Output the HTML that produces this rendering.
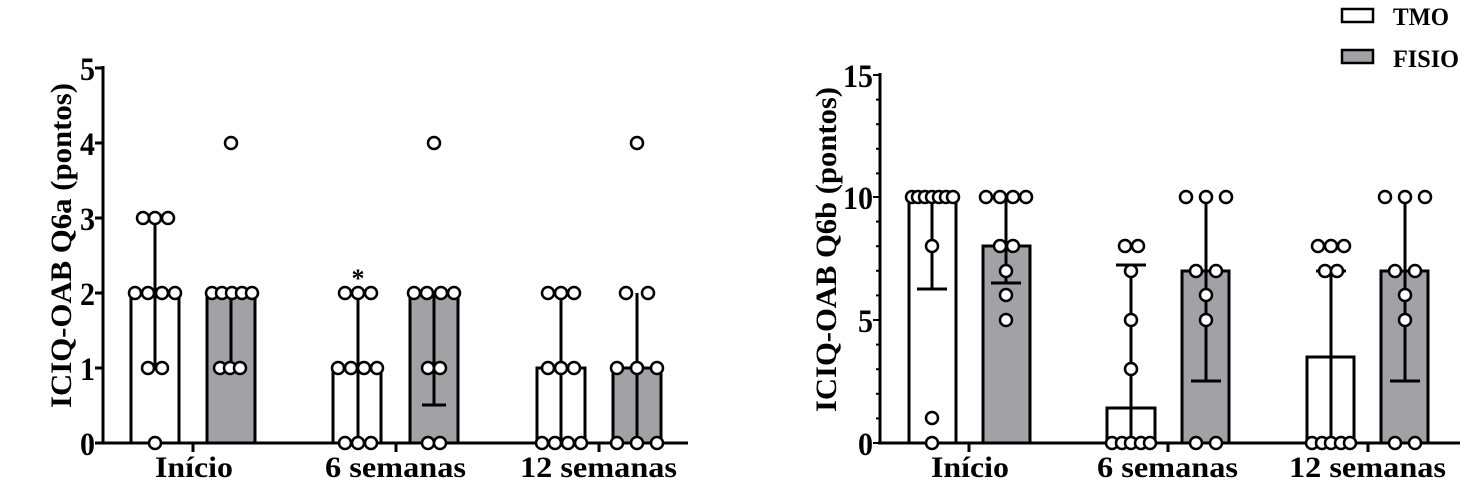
<!DOCTYPE html><html><head><style>body{margin:0;background:#fff}svg{display:block}text{font-family:"Liberation Serif",serif;font-weight:bold;fill:#000}</style></head><body>
<svg width="1472" height="498" viewBox="0 0 1472 498" xmlns="http://www.w3.org/2000/svg">
<g stroke="#000" stroke-width="3" fill="none">
<line x1="103" y1="66" x2="103" y2="444"/><line x1="101" y1="443" x2="688" y2="443"/>
<line x1="95" y1="68" x2="103" y2="68"/><line x1="95" y1="143" x2="103" y2="143"/><line x1="95" y1="218" x2="103" y2="218"/><line x1="95" y1="293" x2="103" y2="293"/><line x1="95" y1="368" x2="103" y2="368"/><line x1="95" y1="443" x2="103" y2="443"/>
<line x1="193" y1="443" x2="193" y2="452"/><line x1="396" y1="443" x2="396" y2="452"/><line x1="599" y1="443" x2="599" y2="452"/>
<line x1="880" y1="73" x2="880" y2="444"/><line x1="878" y1="443" x2="1460" y2="443"/>
</g>
<g stroke="#000" stroke-width="2">
<line x1="873" y1="75" x2="880" y2="75"/><line x1="873" y1="197" x2="880" y2="197"/><line x1="873" y1="320" x2="880" y2="320"/><line x1="873" y1="443" x2="880" y2="443"/>
<line x1="876" y1="99.6" x2="880" y2="99.6"/><line x1="876" y1="124.2" x2="880" y2="124.2"/><line x1="876" y1="148.8" x2="880" y2="148.8"/><line x1="876" y1="173.4" x2="880" y2="173.4"/>
<line x1="876" y1="221.6" x2="880" y2="221.6"/><line x1="876" y1="246.2" x2="880" y2="246.2"/><line x1="876" y1="270.8" x2="880" y2="270.8"/><line x1="876" y1="295.4" x2="880" y2="295.4"/>
<line x1="876" y1="344.6" x2="880" y2="344.6"/><line x1="876" y1="369.2" x2="880" y2="369.2"/><line x1="876" y1="393.8" x2="880" y2="393.8"/><line x1="876" y1="418.4" x2="880" y2="418.4"/>
</g>
<g stroke="#000" stroke-width="3">
<line x1="969" y1="443" x2="969" y2="452"/><line x1="1168" y1="443" x2="1168" y2="452"/><line x1="1368" y1="443" x2="1368" y2="452"/>
</g>
<g stroke="#000" stroke-width="3">
<rect x="131" y="293" width="48" height="150" fill="#fff"/>
<rect x="207" y="293" width="48" height="150" fill="#a2a1a6"/>
<rect x="333" y="368" width="48" height="75" fill="#fff"/>
<rect x="410" y="293" width="48" height="150" fill="#a2a1a6"/>
<rect x="537" y="368" width="48" height="75" fill="#fff"/>
<rect x="613" y="368" width="48" height="75" fill="#a2a1a6"/>
<rect x="909" y="197" width="47" height="246" fill="#fff"/>
<rect x="983" y="246" width="47" height="197" fill="#a2a1a6"/>
<rect x="1107" y="408" width="48" height="35" fill="#fff"/>
<rect x="1182" y="271" width="47" height="172" fill="#a2a1a6"/>
<rect x="1307" y="357" width="47" height="86" fill="#fff"/>
<rect x="1381" y="271" width="47" height="172" fill="#a2a1a6"/>
</g>
<g stroke="#000" stroke-width="3">
<line x1="155" y1="218" x2="155" y2="368"/><line x1="145" y1="218" x2="165" y2="218"/><line x1="145" y1="368" x2="165" y2="368"/>
<line x1="231" y1="293" x2="231" y2="368"/><line x1="221" y1="368" x2="241" y2="368"/>
<line x1="358" y1="293" x2="358" y2="443"/>
<line x1="434" y1="293" x2="434" y2="405"/><line x1="422" y1="405" x2="446" y2="405"/>
<line x1="561" y1="293" x2="561" y2="443"/>
<line x1="637" y1="293" x2="637" y2="443"/>
<line x1="932" y1="197" x2="932" y2="289"/><line x1="917" y1="289" x2="947" y2="289"/>
<line x1="1006" y1="197" x2="1006" y2="283"/><line x1="991" y1="283" x2="1021" y2="283"/>
<line x1="1131" y1="265" x2="1131" y2="443"/><line x1="1116" y1="265" x2="1146" y2="265"/>
<line x1="1206" y1="197" x2="1206" y2="381"/><line x1="1191" y1="381" x2="1221" y2="381"/>
<line x1="1331" y1="271" x2="1331" y2="443"/><line x1="1316" y1="271" x2="1346" y2="271"/>
<line x1="1405" y1="197" x2="1405" y2="381"/><line x1="1390" y1="381" x2="1420" y2="381"/>
</g>
<g stroke="#000" stroke-width="2.5" fill="#fff">
<circle cx="143" cy="218" r="6"/><circle cx="155" cy="218" r="6"/><circle cx="168" cy="218" r="6"/>
<circle cx="135" cy="293" r="6"/><circle cx="148" cy="293" r="6"/><circle cx="162" cy="293" r="6"/><circle cx="175" cy="293" r="6"/>
<circle cx="148" cy="368" r="6"/><circle cx="162" cy="368" r="6"/><circle cx="155" cy="443" r="6"/>
<circle cx="231" cy="143" r="6"/>
<circle cx="212" cy="293" r="6"/><circle cx="222" cy="293" r="6"/><circle cx="232" cy="293" r="6"/><circle cx="242" cy="293" r="6"/><circle cx="252" cy="293" r="6"/>
<circle cx="220" cy="368" r="6"/><circle cx="230" cy="368" r="6"/><circle cx="240" cy="368" r="6"/>
<circle cx="345" cy="293" r="6"/><circle cx="358" cy="293" r="6"/><circle cx="371" cy="293" r="6"/>
<circle cx="338" cy="368" r="6"/><circle cx="351" cy="368" r="6"/><circle cx="364" cy="368" r="6"/><circle cx="377" cy="368" r="6"/>
<circle cx="345" cy="443" r="6"/><circle cx="358" cy="443" r="6"/><circle cx="371" cy="443" r="6"/>
<circle cx="434" cy="143" r="6"/>
<circle cx="414" cy="293" r="6"/><circle cx="427" cy="293" r="6"/><circle cx="441" cy="293" r="6"/><circle cx="454" cy="293" r="6"/>
<circle cx="428" cy="368" r="6"/><circle cx="440" cy="368" r="6"/><circle cx="428" cy="443" r="6"/><circle cx="440" cy="443" r="6"/>
<circle cx="548" cy="293" r="6"/><circle cx="561" cy="293" r="6"/><circle cx="574" cy="293" r="6"/>
<circle cx="548" cy="368" r="6"/><circle cx="561" cy="368" r="6"/><circle cx="574" cy="368" r="6"/>
<circle cx="542" cy="443" r="6"/><circle cx="555" cy="443" r="6"/><circle cx="568" cy="443" r="6"/><circle cx="581" cy="443" r="6"/>
<circle cx="637" cy="143" r="6"/><circle cx="626" cy="293" r="6"/><circle cx="648" cy="293" r="6"/>
<circle cx="617" cy="368" r="6"/><circle cx="637" cy="368" r="6"/><circle cx="657" cy="368" r="6"/>
<circle cx="617" cy="443" r="6"/><circle cx="637" cy="443" r="6"/><circle cx="657" cy="443" r="6"/>
<circle cx="912" cy="197" r="6"/><circle cx="918" cy="197" r="6"/><circle cx="925" cy="197" r="6"/><circle cx="932" cy="197" r="6"/><circle cx="939" cy="197" r="6"/><circle cx="946" cy="197" r="6"/><circle cx="953" cy="197" r="6"/>
<circle cx="932" cy="246" r="6"/><circle cx="932" cy="418" r="6"/><circle cx="932" cy="443" r="6"/>
<circle cx="986" cy="197" r="6"/><circle cx="1000" cy="197" r="6"/><circle cx="1013" cy="197" r="6"/><circle cx="1026" cy="197" r="6"/>
<circle cx="1000" cy="246" r="6"/><circle cx="1013" cy="246" r="6"/><circle cx="1006" cy="271" r="6"/><circle cx="1006" cy="295" r="6"/><circle cx="1006" cy="320" r="6"/>
<circle cx="1125" cy="246" r="6"/><circle cx="1138" cy="246" r="6"/><circle cx="1131" cy="271" r="6"/><circle cx="1131" cy="320" r="6"/><circle cx="1131" cy="369" r="6"/>
<circle cx="1112" cy="443" r="6"/><circle cx="1122" cy="443" r="6"/><circle cx="1131" cy="443" r="6"/><circle cx="1141" cy="443" r="6"/><circle cx="1150" cy="443" r="6"/>
<circle cx="1186" cy="197" r="6"/><circle cx="1206" cy="197" r="6"/><circle cx="1226" cy="197" r="6"/>
<circle cx="1196" cy="271" r="6"/><circle cx="1216" cy="271" r="6"/><circle cx="1206" cy="295" r="6"/><circle cx="1206" cy="320" r="6"/>
<circle cx="1196" cy="443" r="6"/><circle cx="1216" cy="443" r="6"/>
<circle cx="1318" cy="246" r="6"/><circle cx="1331" cy="246" r="6"/><circle cx="1344" cy="246" r="6"/>
<circle cx="1325" cy="271" r="6"/><circle cx="1337" cy="271" r="6"/>
<circle cx="1312" cy="443" r="6"/><circle cx="1322" cy="443" r="6"/><circle cx="1331" cy="443" r="6"/><circle cx="1341" cy="443" r="6"/><circle cx="1350" cy="443" r="6"/>
<circle cx="1385" cy="197" r="6"/><circle cx="1405" cy="197" r="6"/><circle cx="1425" cy="197" r="6"/>
<circle cx="1395" cy="271" r="6"/><circle cx="1415" cy="271" r="6"/><circle cx="1405" cy="295" r="6"/><circle cx="1405" cy="320" r="6"/>
<circle cx="1395" cy="443" r="6"/><circle cx="1415" cy="443" r="6"/>
</g>
<text x="358" y="287" style="font-size:26px" text-anchor="middle">*</text>
<g style="font-size:33px">
<text x="80" y="80" textLength="15" lengthAdjust="spacingAndGlyphs">5</text>
<text x="80" y="155" textLength="15" lengthAdjust="spacingAndGlyphs">4</text>
<text x="80" y="230" textLength="15" lengthAdjust="spacingAndGlyphs">3</text>
<text x="80" y="305" textLength="15" lengthAdjust="spacingAndGlyphs">2</text>
<text x="80" y="380" textLength="15" lengthAdjust="spacingAndGlyphs">1</text>
<text x="80" y="455" textLength="15" lengthAdjust="spacingAndGlyphs">0</text>
<text x="843" y="87" textLength="30" lengthAdjust="spacingAndGlyphs">15</text>
<text x="843" y="209" textLength="30" lengthAdjust="spacingAndGlyphs">10</text>
<text x="858" y="332" textLength="15" lengthAdjust="spacingAndGlyphs">5</text>
<text x="858" y="455" textLength="15" lengthAdjust="spacingAndGlyphs">0</text>
</g>
<g style="font-size:30px">
<text x="155" y="477" textLength="78" lengthAdjust="spacingAndGlyphs">Início</text>
<text x="325" y="477" textLength="141" lengthAdjust="spacingAndGlyphs">6 semanas</text>
<text x="520" y="477" textLength="157" lengthAdjust="spacingAndGlyphs">12 semanas</text>
<text x="931" y="477" textLength="78" lengthAdjust="spacingAndGlyphs">Início</text>
<text x="1097" y="477" textLength="141" lengthAdjust="spacingAndGlyphs">6 semanas</text>
<text x="1289" y="477" textLength="157" lengthAdjust="spacingAndGlyphs">12 semanas</text>
</g>
<text transform="translate(71,408) rotate(-90)" style="font-size:30px" textLength="325" lengthAdjust="spacingAndGlyphs">ICIQ-OAB Q6a (pontos)</text>
<text transform="translate(836,412) rotate(-90)" style="font-size:30px" textLength="325" lengthAdjust="spacingAndGlyphs">ICIQ-OAB Q6b (pontos)</text>
<rect x="1342" y="9" width="31" height="13" fill="#fff" stroke="#000" stroke-width="2.5"/>
<rect x="1342" y="50" width="31" height="13" fill="#a2a1a6" stroke="#000" stroke-width="2.5"/>
<text x="1393" y="25" style="font-size:25px" textLength="56" lengthAdjust="spacingAndGlyphs">TMO</text>
<text x="1393" y="67" style="font-size:25px" textLength="66" lengthAdjust="spacingAndGlyphs">FISIO</text>
</svg></body></html>
